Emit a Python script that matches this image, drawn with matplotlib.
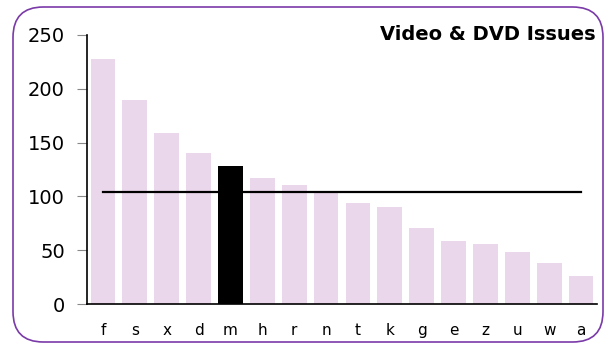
import matplotlib.pyplot as plt
import numpy as np
from matplotlib.patches import FancyBboxPatch

# issue counts per category
labels = ['f', 's', 'x', 'd', 'm', 'h', 'r', 'n', 't', 'k', 'g', 'e', 'z', 'u', 'w', 'a']
counts = [228, 190, 159, 140, 128, 117, 111, 104, 94, 90, 71, 59, 56, 48, 38, 26]
highlight = 'm'

fig = plt.figure(figsize=(6.07, 3.45), dpi=100)
ax = fig.add_axes([87/607, 1 - 304/345, 510/607, 269/345])

x = np.arange(len(labels))
colors = ['black' if l == highlight else '#ebd7eb' for l in labels]
ax.bar(x, counts, width=0.78, color=colors, zorder=2)

avg = np.mean(counts)
ax.plot([x[0], x[-1]], [avg, avg], color='black', lw=1.6, zorder=3)

ax.set_xlim(-0.5, len(labels) - 0.5)
ax.set_ylim(0, 250)
ax.set_yticks(np.arange(0, 251, 50))
ax.set_xticks(x)
ax.set_xticklabels(labels, fontsize=11)
ax.tick_params(axis='y', labelsize=14, length=7, color='#888888', pad=9)
ax.tick_params(axis='x', length=0, pad=14)
for s in ['top', 'right']:
    ax.spines[s].set_visible(False)
for s in ['left', 'bottom']:
    ax.spines[s].set_linewidth(1.2)

fig.text(596/607, 1 - 34/345, 'Video & DVD Issues', ha='right', va='center',
         fontsize=14, fontweight='bold')

# rounded frame around the whole chart
frame = FancyBboxPatch((13/607, 3/345), 590/607, 335/345,
                       boxstyle='round,pad=0,rounding_size=0.05',
                       transform=fig.transFigure, fill=False,
                       edgecolor='#7a3aa8', lw=1.2, mutation_aspect=607/345)
fig.patches.append(frame)

fig.savefig('out.png', dpi=100)
